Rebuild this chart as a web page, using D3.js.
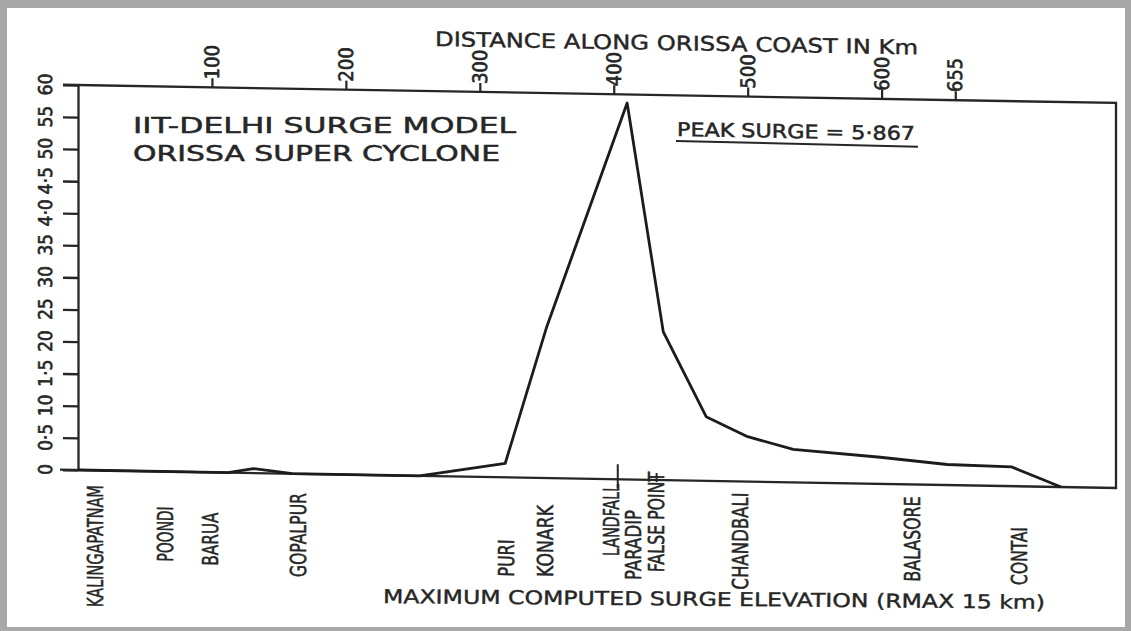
<!DOCTYPE html>
<html><head><meta charset="utf-8">
<script src="https://cdn.jsdelivr.net/npm/d3@7"></script>
<style>body{margin:0;background:#fff} svg{display:block}</style>
</head><body>
<svg id="c" width="1131" height="631"></svg>
<script>
// ---- data ----
const distanceKm = [0, 112, 131, 160, 255, 319, 350, 410, 437, 469, 500, 534, 599, 649, 697, 734];
const surgeM     = [0, 0, 0.07, 0, 0, 0.22, 2.36, 5.867, 2.31, 1.0, 0.70, 0.515, 0.415, 0.32, 0.30, 0];
const yTickValues = [0, 0.5, 1, 1.5, 2, 2.5, 3, 3.5, 4, 4.5, 5, 5.5, 6];
const yTickLabels = ["0", "0·5", "10", "1·5", "20", "25", "30", "35", "4·0", "4·5", "50", "55", "60"];
const xTickValues = [100, 200, 300, 400, 500, 600, 655];
const xTickLabels = ["100", "200", "300", "400", "500", "600", "655"];
const places  = ["KALINGAPATNAM", "POONDI", "BARUA", "GOPALPUR", "PURI", "KONARK", "LANDFALL", "PARADIP", "FALSE POINT", "CHANDBALI", "BALASORE", "CONTAI"];
const placeKm = [13, 65, 99, 165, 320, 349, 398, 415, 432, 495, 623, 703];
const landfallKm = 403, falsePointKm = 432;
const titleTop = "DISTANCE ALONG ORISSA COAST IN Km";
const titleBottom = "MAXIMUM COMPUTED SURGE ELEVATION (RMAX 15 km)";
const modelLines = ["IIT-DELHI SURGE MODEL", "ORISSA SUPER CYCLONE"];
const peakText = "PEAK SURGE = 5·867";

// ---- layout ----
const placeLabelCenterY = [546, 534, 539, 535, 558, 541, 520, 545, 522, 541, 539, 556];
const placeLabelLength  = [122, 55, 53, 84, 37, 72, 72, 70, 100, 97, 85, 58];
const S = 0.0173;               // scan shear
const X0 = 78;
const ink = "#262626";
const narrow = "'Liberation Sans Narrow','DejaVu Sans Condensed','Roboto Condensed',sans-serif";
const wide = "'DejaVu Sans',Verdana,sans-serif";

const svg = d3.select("#c");
svg.append("rect").attr("width", 1131).attr("height", 631).attr("fill", "#a8a8a8");
svg.append("rect").attr("x", 7).attr("y", 8).attr("width", 1118).attr("height", 619).attr("fill", "#fff");

const x = d3.scaleLinear().domain([0, 775]).range([78, 1116]);
const y = d3.scaleLinear().domain([0, 6]).range([470, 85]);
const unshear = (sx, sy) => sy - S * (sx - X0);

const g = svg.append("g").attr("transform", `matrix(1,${S},0,1,0,${-X0 * S})`);

// left axis
const ax = g.append("g").attr("transform", `translate(${X0},0)`)
  .call(d3.axisLeft(y).tickValues(yTickValues).tickSize(15).tickSizeOuter(0).tickFormat(""));
ax.selectAll("path,line").attr("stroke", ink).attr("stroke-width", 2.3);

// top axis
const at = g.append("g").attr("transform", `translate(0,${y(6)})`)
  .call(d3.axisTop(x).tickValues(xTickValues).tickSize(9).tickSizeOuter(0).tickFormat(""));
at.select(".domain").remove();
at.selectAll("line").attr("stroke", ink).attr("stroke-width", 2.2);

// box
g.append("path")
  .attr("d", `M${X0 - 15},${y(6)}H${x(775)}V${y(0)}H${X0 - 18}`)
  .attr("fill", "none").attr("stroke", ink).attr("stroke-width", 2.3);

const heavy = (sel, w) => sel.attr("stroke", ink).attr("stroke-width", w).attr("paint-order", "stroke");

// y labels
heavy(g.selectAll(".yl").data(yTickValues).join("text")
  .attr("transform", (d) => `translate(45,${y(d)}) rotate(-90)`)
  .attr("text-anchor", "middle").attr("dominant-baseline", "central")
  .attr("font-family", narrow).attr("font-size", 19).attr("fill", ink)
  .text((d, i) => yTickLabels[i]), 0.6);

// top labels
heavy(g.selectAll(".xl").data(xTickValues).join("text")
  .attr("transform", (d) => `translate(${x(d)},${y(6) - 8}) rotate(-90)`)
  .attr("text-anchor", "start").attr("dominant-baseline", "central")
  .attr("font-family", narrow).attr("font-size", 20).attr("fill", ink)
  .text((d, i) => xTickLabels[i]), 0.6);

// curve
const pts = distanceKm.map((d, i) => [d, surgeM[i]]);
g.append("path").datum(pts)
  .attr("d", d3.line().x((d) => x(d[0])).y((d) => y(d[1])))
  .attr("fill", "none").attr("stroke", "#1c1c1c").attr("stroke-width", 2.8)
  .attr("stroke-linejoin", "round");

// markers on coast line
g.append("line").attr("x1", x(landfallKm)).attr("x2", x(landfallKm))
  .attr("y1", y(0) - 15).attr("y2", y(0) + 9).attr("stroke", ink).attr("stroke-width", 2);
g.append("line").attr("x1", x(falsePointKm)).attr("x2", x(falsePointKm))
  .attr("y1", y(0) - 7).attr("y2", y(0) + 2).attr("stroke", ink).attr("stroke-width", 2);

// place labels
heavy(g.selectAll(".pl").data(places).join("text")
  .attr("transform", (d, i) => {
    const px = x(placeKm[i]);
    return `translate(${px},${unshear(px, placeLabelCenterY[i])}) rotate(-90)`;
  })
  .attr("text-anchor", "middle").attr("dominant-baseline", "central")
  .attr("font-family", narrow).attr("font-size", 22).attr("fill", ink)
  .attr("textLength", (d, i) => placeLabelLength[i]).attr("lengthAdjust", "spacingAndGlyphs")
  .text((d) => d), 0.5);

// top title
heavy(g.append("text").attr("x", 435).attr("y", unshear(435, 46))
  .attr("font-family", wide).attr("font-size", 20).attr("fill", ink)
  .attr("textLength", 483).attr("lengthAdjust", "spacingAndGlyphs")
  .text(titleTop), 0.4);

// peak text
heavy(g.append("text").attr("x", 677).attr("y", unshear(677, 136))
  .attr("font-family", wide).attr("font-size", 19).attr("fill", ink)
  .attr("textLength", 238).attr("lengthAdjust", "spacingAndGlyphs")
  .text(peakText), 0.5);
g.append("line").attr("x1", 676).attr("x2", 918)
  .attr("y1", unshear(676, 141)).attr("y2", unshear(676, 142.5))
  .attr("stroke", ink).attr("stroke-width", 2);

// model title (unsheared)
heavy(svg.selectAll(".mt").data(modelLines).join("text")
  .attr("x", 133).attr("y", (d, i) => 133 + i * 28)
  .attr("font-family", wide).attr("font-size", 22).attr("fill", ink)
  .attr("textLength", (d, i) => (i === 0 ? 383 : 367)).attr("lengthAdjust", "spacingAndGlyphs")
  .text((d) => d), 0.5);

// bottom title
heavy(svg.append("text").attr("x", 383).attr("y", 603)
  .attr("transform", "rotate(0.5,383,603)")
  .attr("font-family", wide).attr("font-size", 19).attr("fill", ink)
  .attr("textLength", 662).attr("lengthAdjust", "spacingAndGlyphs")
  .text(titleBottom), 0.4);
</script>
</body></html>
